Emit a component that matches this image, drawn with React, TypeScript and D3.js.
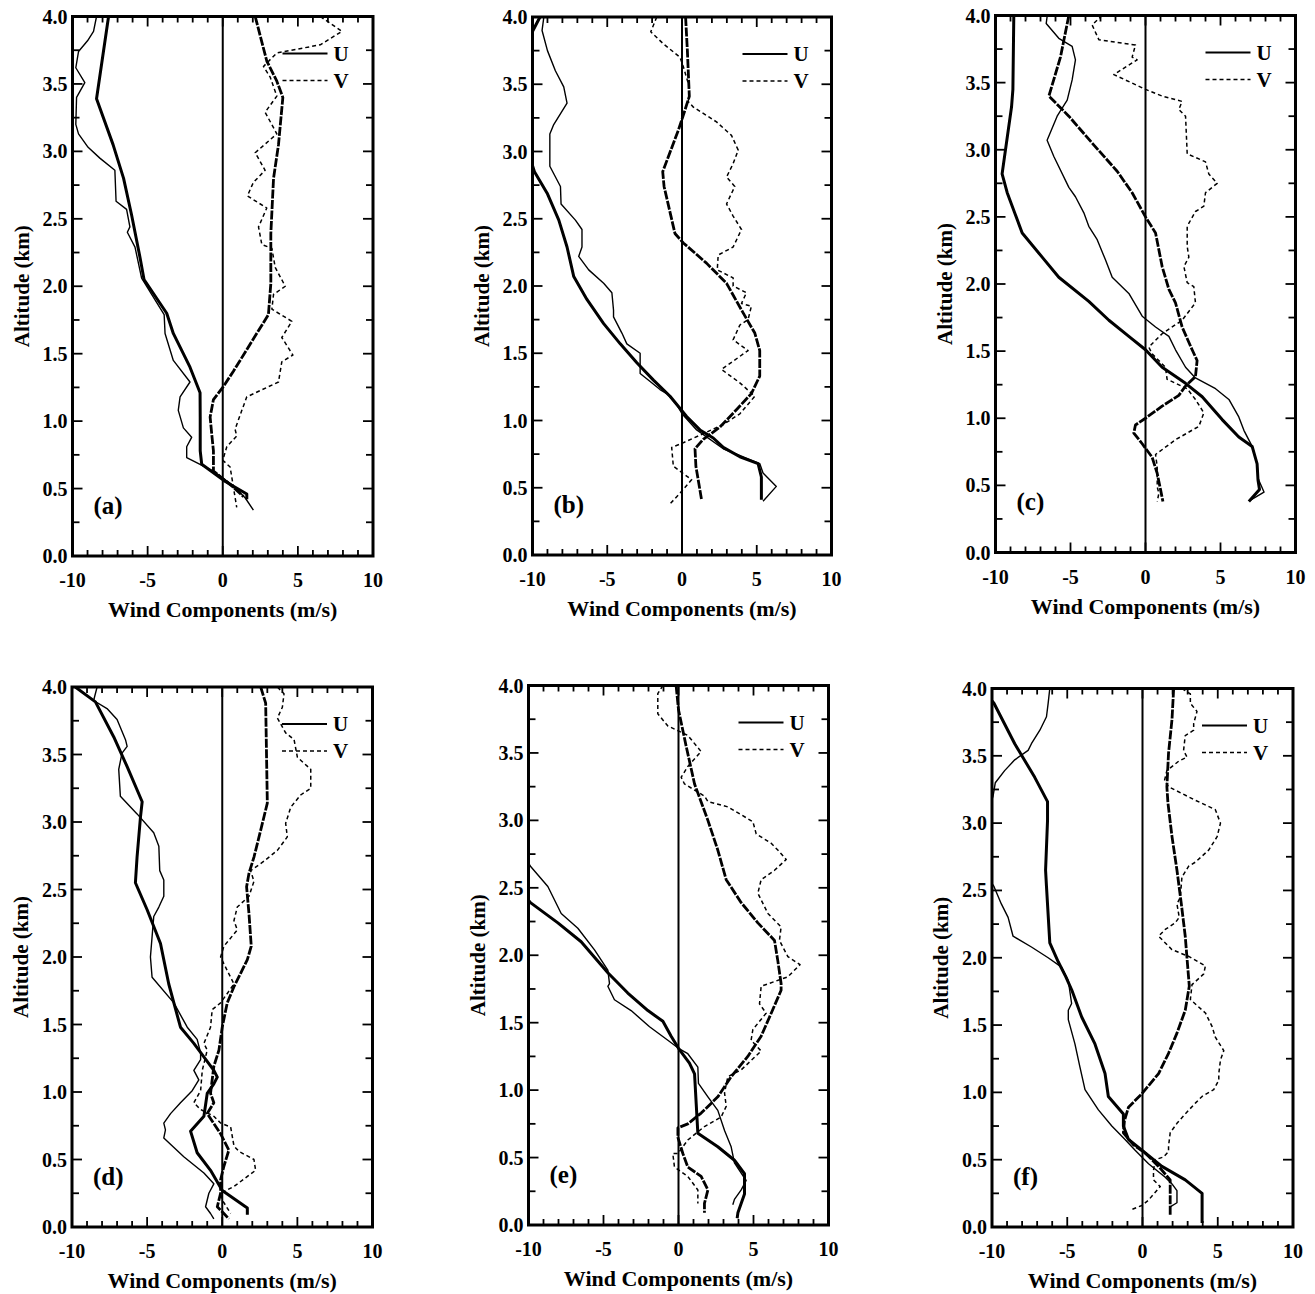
import React from 'react';
import * as d3 from 'd3';

type Pt = [number, number]; // [wind component m/s, altitude km]

const xTickValues = [-10, -5, 0, 5, 10];
const yTickValues = [0, 0.5, 1, 1.5, 2, 2.5, 3, 3.5, 4];
const panelLabels = ['(a)', '(b)', '(c)', '(d)', '(e)', '(f)'];
const legendNames = ['U', 'V'];
const xTitle = 'Wind Components (m/s)';
const yTitle = 'Altitude (km)';

// ---- panel (a)
const aUObs: Pt[] = [[-8.4,4.0],[-8.6,3.89],[-9.0,3.82],[-9.6,3.74],[-9.78,3.62],[-9.18,3.51],[-9.73,3.40],[-9.78,3.2],[-9.6,3.13],[-8.96,3.03],[-8.18,2.95],[-7.18,2.86],[-7.1,2.63],[-6.4,2.57],[-6.18,2.44],[-6.35,2.4],[-5.84,2.29],[-5.4,2.06],[-3.9,1.79],[-3.84,1.65],[-3.29,1.45],[-2.18,1.29],[-2.84,1.18],[-2.96,1.08],[-2.62,0.95],[-2.07,0.88],[-2.4,0.81],[-2.4,0.73],[-0.62,0.63],[0.71,0.52],[1.5,0.43],[2.04,0.34]];
const aUMod: Pt[] = [[-7.6,4.0],[-8.4,3.39],[-7.3,3.05],[-6.6,2.8],[-6.07,2.53],[-5.5,2.21],[-5.24,2.05],[-3.73,1.8],[-3.29,1.65],[-2.18,1.40],[-1.51,1.21],[-1.5,1.03],[-1.5,0.78],[-1.4,0.68],[0.2,0.55],[1.6,0.46],[1.6,0.42]];
const aVObs: Pt[] = [[6.49,4.0],[7.93,3.89],[6.49,3.79],[3.6,3.73],[2.71,3.63],[3.16,3.55],[3.6,3.41],[2.82,3.29],[3.6,3.13],[2.16,2.99],[2.82,2.86],[2.04,2.77],[1.64,2.67],[2.93,2.58],[2.38,2.44],[2.6,2.31],[3.27,2.28],[3.49,2.14],[4.16,2.0],[3.38,1.94],[3.27,1.83],[4.6,1.74],[3.93,1.62],[4.67,1.49],[3.93,1.44],[3.71,1.29],[1.6,1.18],[1.27,1.08],[0.82,0.94],[0.93,0.89],[0.27,0.81],[0,0.71],[0.49,0.66],[0.71,0.51],[0.93,0.36]];
const aVMod: Pt[] = [[2.16,4.0],[2.93,3.67],[3.6,3.52],[4.0,3.4],[3.71,3.05],[3.38,2.8],[3.2,2.39],[3.2,2.02],[3.04,1.79],[1.82,1.57],[0.71,1.37],[0,1.25],[-0.62,1.16],[-0.84,1.03],[-0.73,0.9],[-0.62,0.78],[-0.62,0.63],[0.71,0.51],[1.38,0.44]];

// ---- panel (b)
const bUObs: Pt[] = [[-9.24,4.0],[-9.36,3.9],[-9.0,3.75],[-8.47,3.6],[-7.91,3.48],[-7.69,3.36],[-8.58,3.2],[-8.84,3.13],[-8.84,2.89],[-8.13,2.74],[-8.09,2.61],[-7.13,2.49],[-6.69,2.42],[-6.69,2.29],[-6.91,2.22],[-6.24,2.12],[-5.24,2.02],[-4.69,1.95],[-4.58,1.82],[-4.58,1.77],[-4.02,1.65],[-3.69,1.57],[-2.8,1.5],[-2.8,1.35],[-2.13,1.29],[-1.47,1.23],[-1.02,1.2],[-0.36,1.12],[0,1.05],[0.98,0.93],[2.76,0.79],[5.2,0.68],[5.42,0.61],[6.31,0.51],[5.42,0.4]];
const bUMod: Pt[] = [[-9.5,4.0],[-10.2,3.85],[-11,3.4],[-10.3,3.0],[-9.87,2.85],[-9.02,2.69],[-8.24,2.49],[-7.69,2.29],[-7.24,2.07],[-6.36,1.9],[-5.24,1.72],[-4.13,1.57],[-3.02,1.43],[-1.91,1.3],[-0.8,1.18],[0.31,1.03],[1.2,0.93],[2.09,0.87],[2.76,0.8],[3.87,0.73],[5.09,0.68],[5.31,0.58],[5.31,0.41]];
const bVObs: Pt[] = [[-1.69,4.0],[-2.09,3.89],[-1.24,3.8],[-0.13,3.7],[0.09,3.63],[0.49,3.48],[0.42,3.37],[0.76,3.33],[2.31,3.22],[3.31,3.12],[3.76,3.01],[3.42,2.91],[2.98,2.81],[3.53,2.74],[2.98,2.61],[3.42,2.52],[3.98,2.42],[3.42,2.29],[2.42,2.23],[2.36,2.12],[3.42,2.06],[3.42,2.0],[4.31,1.95],[3.98,1.87],[4.64,1.85],[4.42,1.75],[3.87,1.71],[3.42,1.6],[4.42,1.52],[2.64,1.38],[3.87,1.28],[4.87,1.18],[3.87,1.05],[2.76,0.97],[0,0.83],[-0.69,0.8],[-0.58,0.66],[0.64,0.56],[-0.13,0.46],[-0.8,0.38]];
const bVMod: Pt[] = [[0.24,4.0],[0.36,3.75],[0.49,3.41],[0.09,3.27],[-0.24,3.16],[-1.29,2.85],[-1.2,2.74],[-0.47,2.39],[0.09,2.32],[1.64,2.17],[2.98,2.02],[4.09,1.8],[4.87,1.65],[5.2,1.52],[5.2,1.33],[4.64,1.2],[3.64,1.08],[2.53,0.95],[1.42,0.86],[0.87,0.79],[0.93,0.66],[1.31,0.41]];

// ---- panel (c)
const cUObs: Pt[] = [[-6.55,4.0],[-6.62,3.94],[-5.78,3.83],[-4.89,3.77],[-4.67,3.67],[-4.89,3.52],[-5.22,3.37],[-5.89,3.25],[-6.56,3.07],[-6.11,2.95],[-5.11,2.72],[-4.67,2.65],[-4.11,2.53],[-3.78,2.43],[-3.22,2.33],[-2.67,2.18],[-2.22,2.05],[-1.11,1.93],[-0.22,1.76],[0.67,1.68],[1.56,1.61],[2.0,1.51],[2.67,1.38],[3.33,1.3],[4.67,1.22],[5.56,1.14],[6.22,1.01],[6.56,0.91],[7.11,0.79],[7.44,0.66],[7.51,0.55],[7.9,0.45],[7.0,0.39]];
const cUMod: Pt[] = [[-8.78,4.0],[-8.84,3.45],[-8.93,3.32],[-9.56,2.82],[-9.22,2.68],[-8.22,2.38],[-6.89,2.2],[-5.78,2.05],[-3.78,1.87],[-2.44,1.73],[-1.11,1.61],[0,1.51],[1.11,1.38],[2.67,1.26],[3.78,1.16],[5.11,0.99],[6.22,0.86],[7.11,0.79],[7.44,0.66],[7.5,0.54],[7.6,0.47],[6.89,0.38]];
const cVObs: Pt[] = [[-2.89,4.0],[-3.56,3.93],[-3.11,3.82],[-0.67,3.78],[-0.89,3.69],[-0.56,3.67],[-2.11,3.56],[0,3.45],[1.11,3.4],[2.44,3.36],[2.22,3.3],[2.67,3.25],[2.78,2.97],[4.0,2.91],[4.22,2.82],[4.78,2.75],[4.0,2.68],[3.89,2.58],[3.33,2.54],[2.78,2.43],[2.78,2.28],[2.89,2.2],[2.56,2.13],[2.78,2.01],[3.22,1.98],[3.33,1.86],[2.44,1.73],[1.11,1.63],[0.22,1.53],[0.44,1.48],[1.33,1.38],[1.44,1.29],[2.78,1.22],[3.33,1.14],[3.89,1.04],[3.56,0.94],[2.0,0.84],[0.67,0.73],[0.78,0.64],[0.78,0.49],[0.89,0.44],[0.78,0.38]];
const cVMod: Pt[] = [[-5.11,4.0],[-5.67,3.69],[-6.44,3.4],[-5.11,3.25],[-3.56,3.05],[-1.89,2.84],[-0.89,2.68],[0,2.5],[0.67,2.38],[1.11,2.13],[1.56,1.96],[2.0,1.86],[2.44,1.68],[3.11,1.51],[3.44,1.43],[3.33,1.31],[2.67,1.24],[2.22,1.17],[1.11,1.09],[0,1.0],[-0.67,0.95],[-0.78,0.89],[-0.22,0.81],[0.44,0.71],[0.78,0.59],[1.0,0.47],[1.16,0.38]];

// ---- panel (d)
const dUObs: Pt[] = [[-8.33,4.0],[-8.56,3.9],[-7.67,3.84],[-7.0,3.76],[-6.44,3.61],[-6.33,3.56],[-6.67,3.51],[-6.89,3.39],[-6.78,3.19],[-5.67,3.06],[-4.56,2.92],[-4.22,2.82],[-4.16,2.64],[-3.89,2.57],[-3.89,2.45],[-4.22,2.37],[-4.56,2.3],[-4.67,2.15],[-4.78,2.0],[-4.67,1.85],[-3.22,1.66],[-2.33,1.48],[-1.67,1.39],[-1.44,1.29],[-1.44,1.24],[-1.89,1.16],[-1.56,1.09],[-2.0,1.01],[-2.78,0.92],[-3.44,0.84],[-3.89,0.77],[-3.78,0.72],[-3.89,0.66],[-2.56,0.52],[-1.22,0.4],[-0.56,0.32],[-0.89,0.25],[-1.11,0.15],[-0.78,0.1],[-0.56,0.06]];
const dUMod: Pt[] = [[-9.78,4.0],[-8.44,3.89],[-7.22,3.63],[-6.33,3.41],[-5.33,3.15],[-5.44,3.04],[-5.67,2.74],[-5.78,2.55],[-5.0,2.35],[-4.11,2.1],[-3.89,1.98],[-3.56,1.8],[-3.22,1.66],[-2.78,1.48],[-1.89,1.36],[-0.56,1.16],[-0.33,1.11],[-0.56,1.06],[-1.0,0.99],[-1.22,0.82],[-2.11,0.71],[-1.67,0.55],[-0.78,0.42],[0,0.27],[1.67,0.14],[1.67,0.09]];
const dVObs: Pt[] = [[3.67,4.0],[4.11,3.95],[4.0,3.85],[3.67,3.77],[4.22,3.66],[4.78,3.61],[5.0,3.48],[5.89,3.39],[5.89,3.25],[5.22,3.2],[4.56,3.11],[4.22,2.99],[4.33,2.89],[3.67,2.79],[2.78,2.71],[1.89,2.64],[2.11,2.56],[1.78,2.45],[1.0,2.37],[0.78,2.27],[1.0,2.2],[0.11,2.08],[-0.11,2.0],[0.33,1.9],[0.78,1.8],[-0.11,1.66],[-0.67,1.61],[-0.78,1.48],[-1.22,1.36],[-1.0,1.31],[-1.33,1.16],[-1.44,1.01],[-1.89,0.92],[-1.44,0.87],[-0.56,0.82],[-0.11,0.77],[0.56,0.74],[0.78,0.6],[1.11,0.56],[2.11,0.5],[2.22,0.42],[0.78,0.3],[-0.11,0.25],[0,0.2],[0.56,0.1]];
const dVMod: Pt[] = [[2.56,4.0],[2.89,3.88],[3.0,3.14],[2.56,2.94],[2.11,2.74],[1.78,2.62],[1.62,2.52],[1.78,2.32],[1.93,2.08],[1.67,1.98],[0.78,1.78],[0.33,1.66],[0,1.48],[-0.22,1.31],[-0.56,1.19],[-0.78,0.99],[-0.56,0.92],[-1.0,0.84],[-0.11,0.69],[0.44,0.57],[0.11,0.45],[-0.11,0.35],[-0.11,0.25],[-0.33,0.15],[0.11,0.1],[0.44,0.06]];

// ---- panel (e)
const eUObs: Pt[] = [[-10.3,2.75],[-9.87,2.66],[-8.71,2.51],[-7.82,2.31],[-6.71,2.2],[-5.6,2.04],[-4.71,1.89],[-4.6,1.79],[-4.71,1.77],[-4.27,1.67],[-3.16,1.59],[-1.93,1.47],[-0.71,1.37],[0,1.31],[0.62,1.27],[1.29,1.17],[1.33,1.05],[1.96,0.95],[2.62,0.85],[3.07,0.7],[3.51,0.58],[3.73,0.46],[4.51,0.33],[4.18,0.26],[3.73,0.19],[3.62,0.15]];
const eUMod: Pt[] = [[-10.3,2.45],[-9.87,2.39],[-8.04,2.24],[-6.49,2.1],[-5.4,1.96],[-4.71,1.87],[-3.38,1.72],[-2.04,1.59],[-1.04,1.51],[-0.49,1.4],[0,1.31],[0.73,1.2],[1.07,1.12],[1.18,0.9],[1.29,0.68],[2.62,0.58],[3.73,0.48],[4.4,0.38],[4.4,0.23],[3.96,0.09],[3.91,0.05]];
const eVObs: Pt[] = [[-1.04,4.0],[-1.38,3.94],[-1.38,3.79],[-0.71,3.7],[0.62,3.63],[1.51,3.51],[0.62,3.4],[0.18,3.32],[0.4,3.27],[1.73,3.18],[1.96,3.14],[3.29,3.1],[4.96,2.99],[5.18,2.9],[6.18,2.83],[6.62,2.78],[7.18,2.71],[6.4,2.63],[5.51,2.56],[5.29,2.46],[5.96,2.31],[6.84,2.21],[6.73,2.11],[7.29,1.99],[8.1,1.93],[7.29,1.84],[5.51,1.77],[5.4,1.64],[5.84,1.57],[4.96,1.45],[4.84,1.37],[5.51,1.29],[4.18,1.15],[3.29,1.1],[3.07,0.98],[3.18,0.88],[2.84,0.8],[1.73,0.73],[0.62,0.63],[-0.04,0.53],[-0.38,0.53],[-0.27,0.43],[0.62,0.36],[1.29,0.26],[1.29,0.16]];
const eVMod: Pt[] = [[-0.16,4.0],[0,3.82],[0.51,3.55],[1.07,3.27],[1.96,3.0],[2.62,2.78],[3.18,2.56],[4.18,2.39],[5.29,2.24],[6.4,2.11],[6.62,1.96],[6.84,1.79],[6.84,1.74],[6.18,1.57],[5.51,1.4],[4.62,1.25],[3.51,1.1],[2.62,0.95],[1.51,0.83],[0.62,0.75],[-0.04,0.72],[-0.04,0.65],[0.29,0.53],[0.62,0.43],[1.51,0.36],[1.96,0.26],[1.73,0.16],[1.73,0.09]];

// ---- panel (f)
const fUObs: Pt[] = [[-6.16,4.0],[-6.27,3.89],[-6.38,3.79],[-6.82,3.69],[-7.38,3.59],[-7.6,3.54],[-8.49,3.47],[-9.16,3.39],[-9.78,3.3],[-9.93,3.2],[-10.5,3.0],[-10.8,2.8],[-10.3,2.6],[-9.87,2.53],[-9.38,2.4],[-8.93,2.3],[-8.6,2.16],[-7.38,2.08],[-6.27,2.0],[-5.38,1.93],[-4.93,1.83],[-4.71,1.66],[-4.93,1.61],[-4.93,1.54],[-4.49,1.36],[-4.16,1.19],[-3.82,1.02],[-2.93,0.87],[-2.04,0.75],[-1.16,0.65],[-0.49,0.57],[0.4,0.47],[1.51,0.37],[1.96,0.32],[2.29,0.27],[2.29,0.18],[1.84,0.15]];
const fUMod: Pt[] = [[-10.3,3.95],[-9.87,3.89],[-8.49,3.59],[-7.16,3.34],[-6.31,3.16],[-6.31,3.02],[-6.44,2.65],[-6.38,2.53],[-6.16,2.11],[-5.6,1.97],[-5.1,1.86],[-4.7,1.76],[-4.04,1.56],[-3.16,1.36],[-2.49,1.14],[-2.27,0.97],[-1.27,0.84],[-1.27,0.75],[-0.93,0.65],[-0.04,0.57],[1.29,0.45],[2.84,0.35],[3.96,0.25],[3.96,0.03]];
const fVObs: Pt[] = [[2.62,4.0],[3.18,3.96],[3.18,3.89],[3.62,3.83],[3.4,3.74],[3.4,3.69],[2.84,3.65],[2.73,3.54],[2.96,3.49],[2.4,3.46],[1.62,3.39],[1.47,3.32],[1.73,3.27],[2.62,3.22],[3.51,3.17],[4.84,3.1],[5.18,3.0],[4.96,2.9],[4.4,2.8],[3.51,2.71],[3.07,2.68],[2.62,2.6],[2.51,2.45],[2.29,2.4],[2.44,2.3],[2.18,2.26],[1.51,2.21],[1.07,2.16],[1.96,2.06],[3.07,2.01],[4.18,1.94],[4.07,1.88],[3.29,1.8],[3.18,1.69],[4.18,1.59],[4.62,1.49],[4.84,1.41],[5.4,1.31],[5.18,1.24],[5.07,1.14],[5.07,1.09],[4.73,1.02],[3.96,0.97],[3.51,0.92],[2.84,0.84],[2.29,0.77],[1.84,0.7],[1.73,0.6],[1.73,0.56],[1.4,0.52],[0.84,0.5],[0.73,0.42],[0.73,0.35],[1.18,0.3],[0.4,0.2],[-0.04,0.16],[-0.71,0.13]];
const fVMod: Pt[] = [[2.07,4.0],[1.96,3.77],[1.73,3.52],[1.62,3.27],[1.69,3.15],[1.96,2.9],[2.29,2.65],[2.58,2.4],[2.84,2.16],[3.02,1.91],[3.11,1.79],[2.84,1.61],[2.29,1.44],[1.73,1.29],[1.07,1.14],[-0.04,0.99],[-0.93,0.89],[-1.2,0.79],[-1.27,0.7],[-0.6,0.61],[0.18,0.55],[1.07,0.45],[1.84,0.35],[1.84,0.08]];

const seriesByPanel = [
  [aUObs, aUMod, aVObs, aVMod],
  [bUObs, bUMod, bVObs, bVMod],
  [cUObs, cUMod, cVObs, cVMod],
  [dUObs, dUMod, dVObs, dVMod],
  [eUObs, eUMod, eVObs, eVMod],
  [fUObs, fUMod, fVObs, fVMod],
];

// plot frames (pixel layout)
const frames = [
  { left: 72.5, right: 373, top: 16.5, bottom: 556 },
  { left: 532.5, right: 831.5, top: 17, bottom: 555 },
  { left: 995.5, right: 1295.5, top: 15.5, bottom: 552.5 },
  { left: 72, right: 372.5, top: 687, bottom: 1227 },
  { left: 528.5, right: 828.5, top: 685.5, bottom: 1225 },
  { left: 992, right: 1293, top: 688.5, bottom: 1227 },
];

const font = "'Liberation Serif', 'Times New Roman', serif";

const styles = [
  { width: 1.4, dash: undefined },   // U observed
  { width: 3, dash: undefined },     // U model
  { width: 1.5, dash: '4,3' },       // V observed
  { width: 2.8, dash: '9,1.5' },     // V model
];

function Panel({ idx }: { idx: number }) {
  const f = frames[idx];
  const x = d3.scaleLinear().domain([-10, 10]).range([f.left, f.right]);
  const y = d3.scaleLinear().domain([0, 4]).range([f.bottom, f.top]);
  const line = d3.line<Pt>().x(d => x(d[0])).y(d => y(d[1]));
  const clipId = 'clip' + idx;
  const xMinor = d3.range(-10, 10.01, 1);
  const yMinor = d3.range(0, 4.01, 0.25);
  const fmt = d3.format('.1f');

  return (
    <g>
      <defs>
        <clipPath id={clipId}>
          <rect x={f.left} y={f.top} width={f.right - f.left} height={f.bottom - f.top} />
        </clipPath>
      </defs>
      <g clipPath={`url(#${clipId})`} fill="none" stroke="#000" strokeLinejoin="round">
        {seriesByPanel[idx].map((s, i) => (
          <path key={i} d={line(s) || ''} strokeWidth={styles[i].width} strokeDasharray={styles[i].dash} />
        ))}
      </g>
      {/* zero line */}
      <line x1={x(0)} x2={x(0)} y1={f.top} y2={f.bottom} stroke="#000" strokeWidth={2} />
      {/* ticks */}
      {xMinor.map(v => {
        const len = v % 5 === 0 ? 10 : 6;
        return (
          <g key={'xt' + v} stroke="#000" strokeWidth={1.8}>
            <line x1={x(v)} x2={x(v)} y1={f.bottom} y2={f.bottom - len} />
            <line x1={x(v)} x2={x(v)} y1={f.top} y2={f.top + len} />
          </g>
        );
      })}
      {yMinor.map(v => {
        const len = Math.abs((v * 2) % 1) < 1e-6 ? 10 : 7;
        return (
          <g key={'yt' + v} stroke="#000" strokeWidth={1.8}>
            <line x1={f.left} x2={f.left + len} y1={y(v)} y2={y(v)} />
            <line x1={f.right} x2={f.right - len} y1={y(v)} y2={y(v)} />
          </g>
        );
      })}
      <rect x={f.left} y={f.top} width={f.right - f.left} height={f.bottom - f.top} fill="none" stroke="#000" strokeWidth={3} />
      {/* tick labels */}
      <g fontFamily={font} fontWeight="bold" fontSize={20} fill="#000">
        {xTickValues.map(v => (
          <text key={'xl' + v} x={x(v)} y={f.bottom + 31} textAnchor="middle">{v}</text>
        ))}
        {yTickValues.map(v => (
          <text key={'yl' + v} x={f.left - 5} y={y(v)} dy="0.35em" textAnchor="end">{fmt(v)}</text>
        ))}
      </g>
      <text x={(f.left + f.right) / 2} y={f.bottom + 61} textAnchor="middle" fontFamily={font} fontWeight="bold" fontSize={22}>{xTitle}</text>
      <text transform={`translate(${f.left - 51},${(f.top + f.bottom) / 2}) rotate(-90)`} textAnchor="middle" dy="0.35em" fontFamily={font} fontWeight="bold" fontSize={21}>{yTitle}</text>
      {/* panel letter */}
      <text x={f.left + 21} y={f.bottom - 51} dy="0.35em" fontFamily={font} fontWeight="bold" fontSize={25}>{panelLabels[idx]}</text>
      {/* legend */}
      {legendNames.map((n, i) => {
        const ly = f.top + 37 + i * 27;
        return (
          <g key={n}>
            <line x1={f.left + 210} x2={f.left + 255} y1={ly} y2={ly} stroke="#000" strokeWidth={i === 0 ? 2 : 1.5} strokeDasharray={i === 0 ? undefined : '4,3'} />
            <text x={f.left + 261} y={ly} dy="0.35em" fontFamily={font} fontWeight="bold" fontSize={21}>{n}</text>
          </g>
        );
      })}
    </g>
  );
}

export default function App() {
  return (
    <svg width={1315} height={1294} style={{ position: 'absolute', left: 0, top: 0, display: 'block', background: '#fff' }}>
      {frames.map((_, i) => <Panel key={i} idx={i} />)}
    </svg>
  );
}
